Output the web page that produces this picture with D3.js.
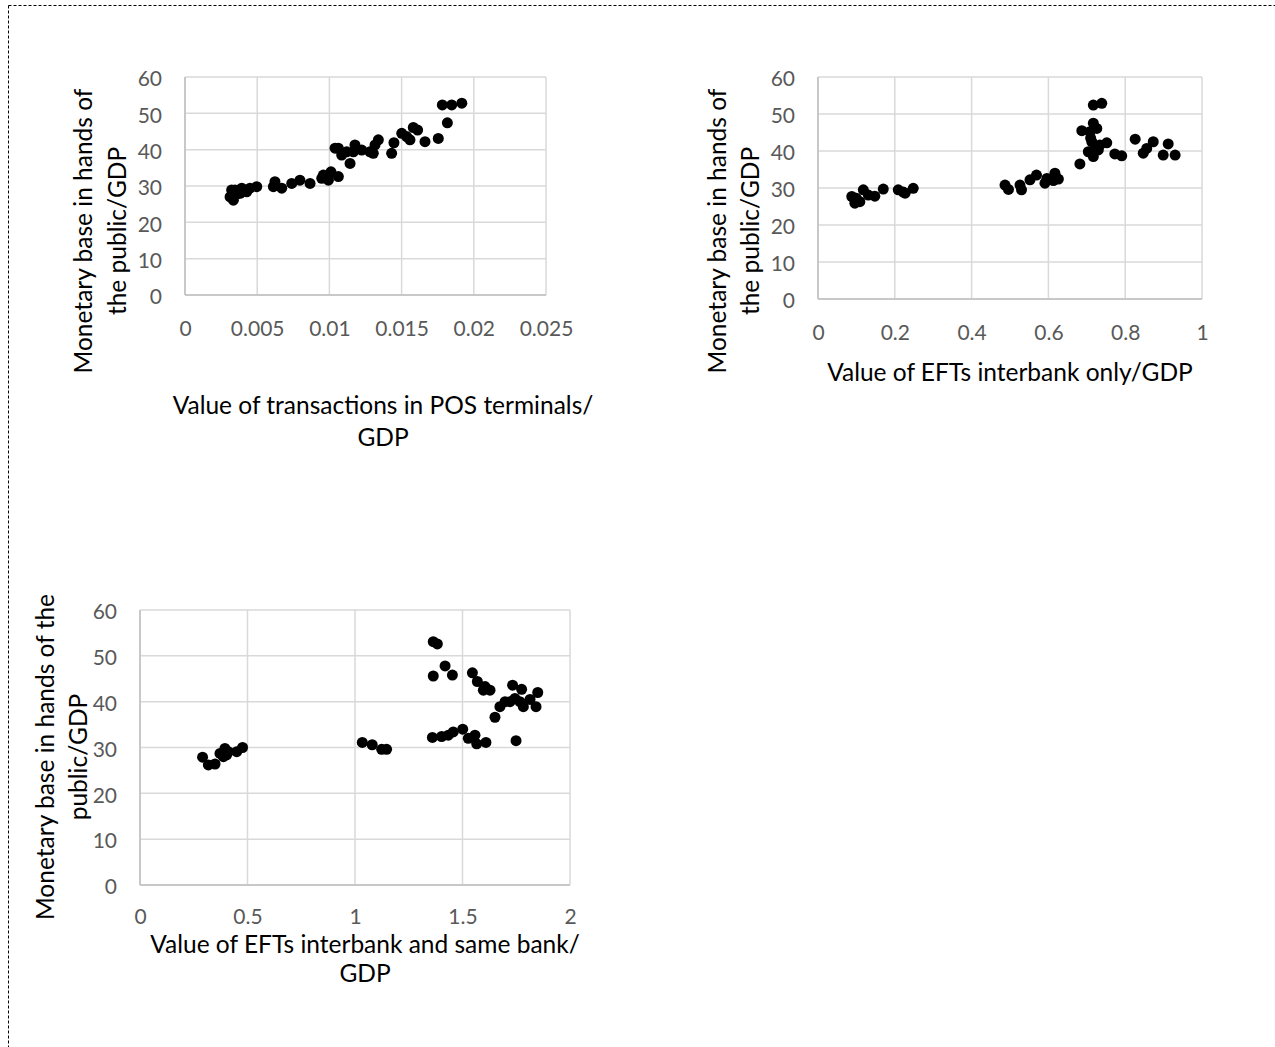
<!DOCTYPE html>
<html>
<head>
<meta charset="utf-8">
<script src="https://cdn.jsdelivr.net/npm/d3@7"></script>
<style>
  body { margin: 0; background: #fff; }
  svg { display: block; font-family: Lato, "Open Sans", sans-serif; }
</style>
</head>
<body>
<svg id="chart" width="1275" height="1047"></svg>
<script>
// value of transactions in POS terminals / GDP vs monetary base
const posX = [0.00312, 0.00323, 0.00335, 0.00346, 0.00381, 0.00393, 0.00427, 0.00450, 0.00497,
    0.00612, 0.00623, 0.00670, 0.00739, 0.00796, 0.00866, 0.00947, 0.00958, 0.00993, 0.01011, 0.01062,
    0.01039, 0.01062, 0.01085, 0.01120, 0.01143, 0.01166, 0.01177, 0.01224, 0.01281, 0.01304, 0.01316,
    0.01339, 0.01431, 0.01447, 0.01501, 0.01535, 0.01558, 0.01581, 0.01611, 0.01662, 0.01754, 0.01782,
    0.01817, 0.01847, 0.01917, 0.00330, 0.00360]
const posY = [27.0, 28.9, 26.1, 28.9, 28.0, 29.4, 28.4, 29.4, 29.8,
    29.8, 31.2, 29.4, 30.7, 31.6, 30.7, 32.1, 33.0, 31.6, 33.9, 32.6,
    40.4, 40.4, 38.5, 39.4, 36.2, 39.4, 41.3, 39.9, 39.4, 39.0, 41.3,
    42.7, 39.0, 41.9, 44.5, 43.6, 42.7, 46.1, 45.4, 42.2, 43.1, 52.3,
    47.4, 52.3, 52.8, 27.5, 27.8]

// value of EFTs interbank only / GDP vs monetary base
const eftX = [0.088, 0.096, 0.100, 0.109, 0.118, 0.131, 0.148, 0.170, 0.209, 0.227, 0.248, 0.222,
    0.487, 0.496, 0.526, 0.530, 0.552, 0.569, 0.591, 0.596, 0.613, 0.617, 0.626,
    0.682, 0.687, 0.704, 0.708, 0.713, 0.717, 0.717, 0.717, 0.726, 0.730, 0.734, 0.739, 0.752,
    0.773, 0.791, 0.826, 0.847, 0.856, 0.873, 0.899, 0.912, 0.930, 0.710, 0.722]
const eftY = [27.7, 25.9, 27.2, 26.3, 29.5, 28.1, 27.8, 29.7, 29.5, 28.6, 29.9, 28.9,
    30.8, 29.6, 30.8, 29.5, 32.2, 33.5, 31.3, 32.6, 32.0, 34.0, 32.4,
    36.5, 45.5, 39.8, 45.2, 42.5, 52.4, 47.5, 38.5, 46.1, 40.3, 41.6, 52.9, 42.2,
    39.2, 38.7, 43.2, 39.4, 40.7, 42.5, 38.9, 41.9, 38.9, 43.5, 41.0]

// value of EFTs interbank and same bank / GDP vs monetary base
const eftSameX = [0.291, 0.318, 0.349, 0.372, 0.388, 0.395, 0.403, 0.411, 0.450, 0.477,
    1.034, 1.080, 1.124, 1.147,
    1.360, 1.403, 1.434, 1.457, 1.501, 1.527, 1.558, 1.566, 1.609,
    1.364, 1.383, 1.364, 1.419, 1.453, 1.546, 1.569, 1.597, 1.605, 1.628,
    1.651, 1.674, 1.698, 1.721, 1.733, 1.744, 1.749, 1.767, 1.775, 1.783, 1.814, 1.842, 1.850]
const eftSameY = [27.9, 26.2, 26.4, 28.7, 28.0, 29.8, 28.4, 29.1, 29.1, 30.0,
    31.1, 30.6, 29.6, 29.6,
    32.2, 32.4, 32.7, 33.4, 34.0, 32.0, 32.7, 30.8, 31.1,
    53.1, 52.6, 45.6, 47.8, 45.8, 46.3, 44.4, 42.5, 43.3, 42.5,
    36.6, 38.9, 40.0, 40.0, 43.6, 40.7, 31.5, 40.0, 42.7, 38.9, 40.5, 38.9, 42.0]

const yTicks = [0, 10, 20, 30, 40, 50, 60]
const posTicks = [0, 0.005, 0.01, 0.015, 0.02, 0.025]
const eftTicks = [0, 0.2, 0.4, 0.6, 0.8, 1]
const eftSameTicks = [0, 0.5, 1, 1.5, 2]

const yTitle = ['Monetary base in hands of', 'the public/GDP']
const yTitle3 = ['Monetary base in hands of the', 'public/GDP']

const svg = d3.select('#chart')

// dotted frame of the figure
svg.append('line').attr('x1', 8.5).attr('x2', 8.5).attr('y1', 5.5).attr('y2', 1047)
    .attr('stroke', '#000').attr('stroke-width', 1).attr('stroke-dasharray', '3,2')
svg.append('line').attr('x1', 8.5).attr('x2', 1275).attr('y1', 5.5).attr('y2', 5.5)
    .attr('stroke', '#000').attr('stroke-width', 1).attr('stroke-dasharray', '3,2')

const panels = [
    {
        xs: posX, ys: posY, xTicks: posTicks, xDomain: [0, 0.025],
        left: 185, right: 546, top: 77, bottom: 295,
        labelGap: 26, yTitle: yTitle, yTitleX: [83, 117], yTitleY: 231,
        xTitle: ['Value of transactions in POS terminals/', 'GDP'], xTitleX: 383, xTitleY: [405, 437]
    },
    {
        xs: eftX, ys: eftY, xTicks: eftTicks, xDomain: [0, 1],
        left: 818, right: 1202, top: 77, bottom: 299,
        labelGap: 26, yTitle: yTitle, yTitleX: [717, 750], yTitleY: 231,
        xTitle: ['Value of EFTs interbank only/GDP'], xTitleX: 1010, xTitleY: [372]
    },
    {
        xs: eftSameX, ys: eftSameY, xTicks: eftSameTicks, xDomain: [0, 2],
        left: 140, right: 570, top: 610, bottom: 885,
        labelGap: 24, yTitle: yTitle3, yTitleX: [45, 78], yTitleY: 757,
        xTitle: ['Value of EFTs interbank and same bank/', 'GDP'], xTitleX: 365, xTitleY: [944, 973]
    }
]

const fmt = d => String(+d.toFixed(4))

panels.forEach(p => {
    const x = d3.scaleLinear().domain(p.xDomain).range([p.left, p.right])
    const y = d3.scaleLinear().domain([0, 60]).range([p.bottom, p.top])
    const g = svg.append('g')

    g.selectAll('.vgrid').data(p.xTicks).join('line')
        .attr('x1', d => x(d)).attr('x2', d => x(d))
        .attr('y1', p.top).attr('y2', p.bottom)
        .attr('stroke', '#d9d9d9').attr('stroke-width', 1.5)
    g.selectAll('.hgrid').data(yTicks).join('line')
        .attr('x1', p.left).attr('x2', p.right)
        .attr('y1', d => y(d)).attr('y2', d => y(d))
        .attr('stroke', '#d9d9d9').attr('stroke-width', 1.5)
    g.append('line').attr('x1', p.left).attr('x2', p.right).attr('y1', p.bottom).attr('y2', p.bottom)
        .attr('stroke', '#bfbfbf').attr('stroke-width', 1.5)
    g.append('line').attr('x1', p.left).attr('x2', p.left).attr('y1', p.top).attr('y2', p.bottom)
        .attr('stroke', '#bfbfbf').attr('stroke-width', 1.5)

    const xAxis = g.append('g').attr('transform', `translate(0,${p.bottom})`)
        .call(d3.axisBottom(x).tickValues(p.xTicks).tickFormat(fmt).tickSize(0).tickPadding(p.labelGap))
    const yAxis = g.append('g').attr('transform', `translate(${p.left},2)`)
        .call(d3.axisLeft(y).tickValues(yTicks).tickSize(0).tickPadding(23))
    ;[xAxis, yAxis].forEach(a => {
        a.select('.domain').remove()
        a.selectAll('text').attr('fill', '#595959').style('font-size', '21px').style('font-family', 'Lato, sans-serif')
    })

    g.selectAll('circle').data(p.xs).join('circle')
        .attr('cx', d => x(d))
        .attr('cy', (d, i) => y(p.ys[i]))
        .attr('r', 5.5)
        .attr('fill', '#000')

    p.yTitle.forEach((t, i) => {
        g.append('text')
            .attr('transform', `translate(${p.yTitleX[i]},${p.yTitleY}) rotate(-90)`)
            .attr('text-anchor', 'middle').attr('dy', '0.35em')
            .style('font-size', '24.5px').attr('fill', '#000')
            .text(t)
    })
    p.xTitle.forEach((t, i) => {
        g.append('text')
            .attr('x', p.xTitleX).attr('y', p.xTitleY[i])
            .attr('text-anchor', 'middle').attr('dy', '0.35em')
            .style('font-size', '24.5px').attr('fill', '#000')
            .text(t)
    })
})
</script>
</body>
</html>
